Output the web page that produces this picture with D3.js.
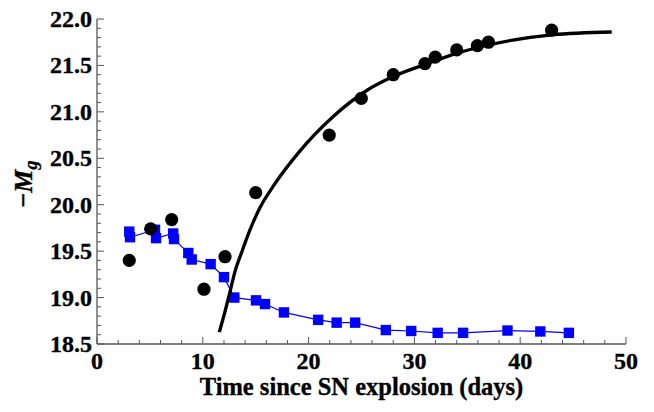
<!DOCTYPE html>
<html><head><meta charset="utf-8">
<script src="https://cdn.jsdelivr.net/npm/d3@7"></script>
<style>body{margin:0;background:#fff}svg{display:block}</style>
</head><body>
<script>
const obsDays = [3.05, 5.07, 7.06, 10.11, 12.1, 15.0, 21.95, 24.98, 28.0, 31.0, 31.97, 34.0, 35.95, 37.0, 42.97];
const obsMag  = [19.40, 19.74, 19.84, 19.09, 19.44, 20.13, 20.75, 21.145, 21.40, 21.52, 21.59, 21.667, 21.714, 21.75, 21.88];
const fitDays = [11.56, 12.10, 12.57, 13.04, 13.68, 14.46, 15.41, 16.66, 19.19, 22.33, 25.49, 28.0, 31.0, 34.0, 37.0, 43.0, 48.65];
const fitMag  = [18.628, 18.85, 19.06, 19.28, 19.49, 19.73, 19.97, 20.20, 20.58, 20.95, 21.23, 21.38, 21.51, 21.63, 21.72, 21.83, 21.86];
const sqDays = [3.05, 3.12, 5.48, 5.58, 7.2, 7.28, 8.63, 8.95, 10.74, 12.0, 12.98, 15.03, 15.88, 17.67, 20.9, 22.65, 24.4, 27.3, 29.7, 32.2, 34.6, 38.8, 41.9, 44.6];
const sqMag  = [19.71, 19.65, 19.73, 19.64, 19.69, 19.63, 19.48, 19.41, 19.36, 19.22, 19.00, 18.97, 18.93, 18.84, 18.76, 18.73, 18.73, 18.65, 18.64, 18.62, 18.62, 18.645, 18.635, 18.62];
const xTicks = [0, 10, 20, 30, 40, 50];
const yTicks = [18.5, 19.0, 19.5, 20.0, 20.5, 21.0, 21.5, 22.0];

const W = 654, H = 412;
const m = {l: 97, r: 28, t: 19, b: 68};
const svg = d3.select("body").append("svg").attr("width", W).attr("height", H);
const x = d3.scaleLinear().domain([0, 50]).range([m.l, W - m.r]);
const y = d3.scaleLinear().domain([18.5, 22]).range([H - m.b, m.t]);
const font = "'Liberation Serif','Times New Roman',serif";
const axisColor = "#555";
const fs = 24;

const g = svg.append("g");
const xMinor = d3.range(0, 50.01, 2);
const yMinor = d3.range(0, 36, 1).map(i => 18.5 + i * 0.1);
g.selectAll(".xm").data(xMinor).enter().append("line")
  .attr("x1", d => x(d)).attr("x2", d => x(d))
  .attr("y1", y(18.5)).attr("y2", d => y(18.5) - (Math.round(d) % 10 === 0 ? 7 : 4))
  .attr("stroke", axisColor).attr("stroke-width", 1);
g.selectAll(".ym").data(yMinor).enter().append("line")
  .attr("y1", d => y(d)).attr("y2", d => y(d))
  .attr("x1", x(0)).attr("x2", (d, i) => x(0) + (i % 5 === 0 ? 7 : 4))
  .attr("stroke", axisColor).attr("stroke-width", 1);
g.append("line").attr("x1", x(0)).attr("x2", x(50)).attr("y1", y(18.5)).attr("y2", y(18.5)).attr("stroke", axisColor).attr("stroke-width", 1.3);
g.append("line").attr("x1", x(0)).attr("x2", x(0)).attr("y1", y(18.5)).attr("y2", y(22)).attr("stroke", axisColor).attr("stroke-width", 1.3);

function styleText(sel, size) {
  return sel.attr("font-family", font).attr("font-weight", "bold").attr("font-size", size)
    .attr("fill", "#000").attr("stroke", "#000").attr("stroke-width", 0.35);
}
styleText(svg.selectAll(".xl").data(xTicks).enter().append("text")
  .attr("x", d => x(d)).attr("y", y(18.5) + 25)
  .attr("text-anchor", "middle"), fs).text(d => d);
styleText(svg.selectAll(".yl").data(yTicks).enter().append("text")
  .attr("x", x(0) - 5).attr("y", d => y(d) + 8)
  .attr("text-anchor", "end"), fs).text(d => d.toFixed(1));

styleText(svg.append("text").attr("x", (x(0) + x(50)) / 2).attr("y", 395)
  .attr("text-anchor", "middle"), 24.5).text("Time since SN explosion (days)");
const yt = styleText(svg.append("text").attr("transform", `translate(32,184) rotate(-90)`)
  .attr("text-anchor", "middle"), 26);
yt.append("tspan").text("\u2212");
yt.append("tspan").attr("font-style", "italic").text("M");
yt.append("tspan").attr("font-style", "italic").attr("font-size", 18).attr("dy", 5).text("g");

const pts = sqDays.map((d, i) => [d, sqMag[i]]);
svg.append("path").datum(pts)
  .attr("d", d3.line().x(d => x(d[0])).y(d => y(d[1])))
  .attr("fill", "none").attr("stroke", "#0000ff").attr("stroke-width", 1.2);
svg.selectAll(".sq").data(pts).enter().append("rect")
  .attr("x", d => x(d[0]) - 5.2).attr("y", d => y(d[1]) - 5.2)
  .attr("width", 10.4).attr("height", 10.4).attr("fill", "#0000ff");

const fit = fitDays.map((d, i) => [d, fitMag[i]]);
svg.append("path").datum(fit)
  .attr("d", d3.line().curve(d3.curveMonotoneX).x(d => x(d[0])).y(d => y(d[1])))
  .attr("fill", "none").attr("stroke", "#000").attr("stroke-width", 3.3);

svg.selectAll(".ob").data(obsDays.map((d, i) => [d, obsMag[i]])).enter().append("circle")
  .attr("cx", d => x(d[0])).attr("cy", d => y(d[1])).attr("r", 6.6).attr("fill", "#000");
</script>
</body></html>
